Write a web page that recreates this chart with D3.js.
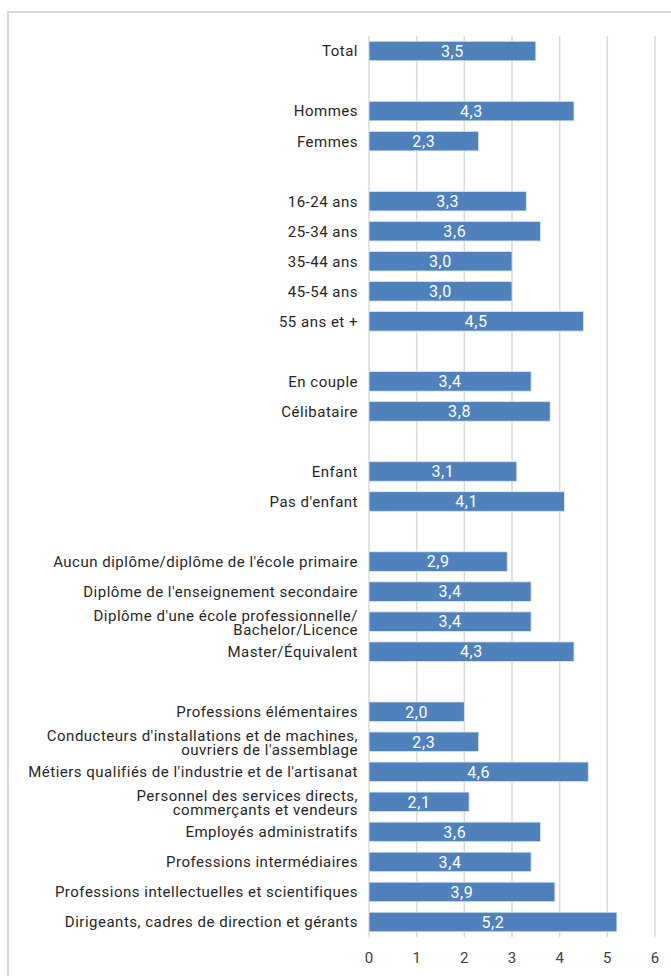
<!DOCTYPE html>
<html>
<head>
<meta charset="utf-8">
<script src="https://cdn.jsdelivr.net/npm/d3@7"></script>
<style>
  body { margin: 0; background: #fff; }
  svg { display: block; font-family: Roboto, "Noto Sans", sans-serif; }
</style>
</head>
<body>
<div id="chart"></div>
<script>
// Categories (empty string = blank separator row), each line of a label split by "\n"
const categories = [
    "Total", "",
    "Hommes", "Femmes", "",
    "16-24 ans", "25-34 ans", "35-44 ans", "45-54 ans", "55 ans et +", "",
    "En couple", "Célibataire", "",
    "Enfant", "Pas d'enfant", "",
    "Aucun diplôme/diplôme de l'école primaire",
    "Diplôme de l'enseignement secondaire",
    "Diplôme d'une école professionnelle/\nBachelor/Licence",
    "Master/Équivalent", "",
    "Professions élémentaires",
    "Conducteurs d'installations et de machines,\nouvriers de l'assemblage",
    "Métiers qualifiés de l'industrie et de l'artisanat",
    "Personnel des services directs,\ncommerçants et vendeurs",
    "Employés administratifs",
    "Professions intermédiaires",
    "Professions intellectuelles et scientifiques",
    "Dirigeants, cadres de direction et gérants"
];
const values = [
    3.5, null,
    4.3, 2.3, null,
    3.3, 3.6, 3.0, 3.0, 4.5, null,
    3.4, 3.8, null,
    3.1, 4.1, null,
    2.9, 3.4, 3.4, 4.3, null,
    2.0, 2.3, 4.6, 2.1, 3.6, 3.4, 3.9, 5.2
];
const xTicks = [0, 1, 2, 3, 4, 5, 6];

const W = 671, H = 976;
const plot = { left: 369, right: 655, top: 36, bottom: 937 };

const rows = categories.map((c, i) => ({ key: "r" + i, label: c, value: values[i] }));

const svg = d3.select("#chart").append("svg")
    .attr("width", W)
    .attr("height", H);

// outer frame (runs off the right and bottom edges)
svg.append("rect")
    .attr("x", 8).attr("y", 12)
    .attr("width", 700).attr("height", 1000)
    .attr("fill", "none")
    .attr("stroke", "#d9d9d9")
    .attr("stroke-width", 2);

const x = d3.scaleLinear().domain([0, 6]).range([plot.left, plot.right]);
const y = d3.scaleBand().domain(rows.map(d => d.key))
    .range([plot.top, plot.bottom]).paddingInner(0.35).paddingOuter(0.175);

// gridlines
svg.append("g")
    .selectAll("line")
    .data(xTicks)
    .enter().append("line")
    .attr("x1", d => x(d)).attr("x2", d => x(d))
    .attr("y1", plot.top).attr("y2", plot.bottom)
    .attr("stroke", "#d9d9d9")
    .attr("stroke-width", 1.5);

// bars
const bars = rows.filter(d => d.value !== null);
svg.append("g")
    .selectAll("rect")
    .data(bars)
    .enter().append("rect")
    .attr("x", x(0))
    .attr("y", d => y(d.key))
    .attr("width", d => x(d.value) - x(0))
    .attr("height", y.bandwidth())
    .attr("fill", "#4f81bd")
    .attr("stroke", "#dbe5f1")
    .attr("stroke-width", 0.8);

// value labels
svg.append("g")
    .selectAll("text")
    .data(bars)
    .enter().append("text")
    .attr("x", d => (x(0) + x(d.value)) / 2)
    .attr("y", d => y(d.key) + y.bandwidth() / 2)
    .attr("dy", "0.36em")
    .attr("text-anchor", "middle")
    .attr("fill", "#fff")
    .style("font-size", "16px")
    .style("letter-spacing", "0.6px")
    .text(d => d.value.toFixed(1).replace(".", ","));

// category labels
const fs = 15, lh = 14;
const lab = svg.append("g")
    .selectAll("text")
    .data(rows.filter(d => d.label))
    .enter().append("text")
    .attr("x", plot.left - 11)
    .attr("y", d => y(d.key) + y.bandwidth() / 2)
    .attr("text-anchor", "end")
    .attr("fill", "#262626")
    .style("font-size", fs + "px")
    .style("letter-spacing", "0.5px");

lab.each(function (d) {
    const lines = d.label.split("\n");
    const first = -(lines.length - 1) * lh / 2 + (lines.length > 1 ? 1 : 0);
    d3.select(this).selectAll("tspan")
        .data(lines)
        .enter().append("tspan")
        .attr("x", plot.left - 11)
        .attr("dy", (l, i) => i === 0 ? (first + 0.36 * fs) + "px" : lh + "px")
        .text(l => l);
});

// x axis tick labels
svg.append("g")
    .selectAll("text")
    .data(xTicks)
    .enter().append("text")
    .attr("x", d => x(d))
    .attr("y", 958)
    .attr("dy", "0.36em")
    .attr("text-anchor", "middle")
    .attr("fill", "#404040")
    .style("font-size", "15px")
    .text(d => d);
</script>
</body>
</html>
